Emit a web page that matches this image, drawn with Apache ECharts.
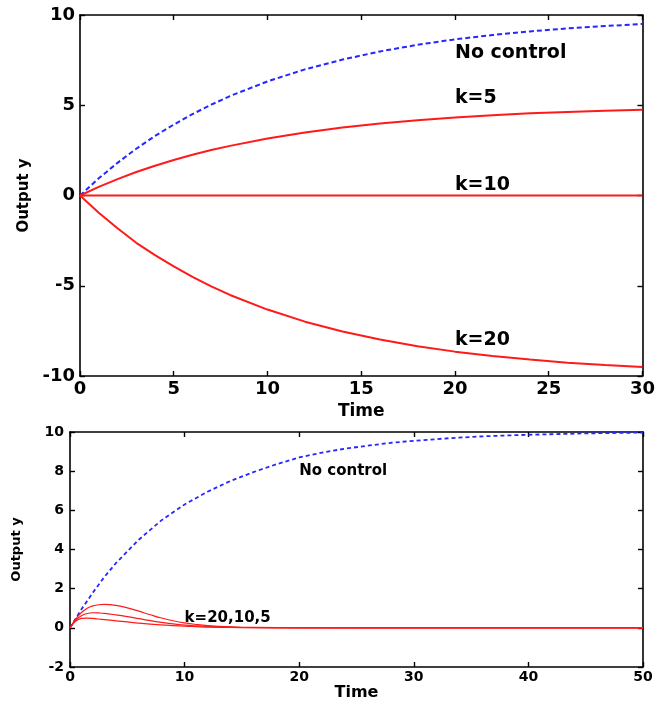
<!DOCTYPE html>
<html>
<head>
<meta charset="utf-8">
<script src="https://cdn.jsdelivr.net/npm/echarts@6/dist/echarts.min.js"></script>
<style>
html,body{margin:0;padding:0;background:#fff;}
#c{width:658px;height:702px;}
</style>
</head>
<body>
<div id="c"></div>
<script>
// ---- Top panel data (Time 0..30) ----
var topTime = [0,1,2,3,4,5,6,7,8,10,12,14,16,18,20,22,24,26,28,30];
var topNoControl = [0,0.95,1.81,2.59,3.30,3.93,4.51,5.03,5.51,6.32,6.99,7.53,7.98,8.35,8.65,8.89,9.09,9.26,9.39,9.50];
var topK5 = [0,0.48,0.91,1.30,1.65,1.97,2.26,2.52,2.75,3.16,3.49,3.77,3.99,4.17,4.32,4.45,4.55,4.63,4.70,4.75];
var topK10 = [0,0,0,0,0,0,0,0,0,0,0,0,0,0,0,0,0,0,0,0];
var topK20 = [0,-0.95,-1.81,-2.62,-3.30,-3.93,-4.51,-5.03,-5.51,-6.32,-6.99,-7.53,-7.98,-8.35,-8.65,-8.89,-9.09,-9.26,-9.39,-9.50];
var topXTicks = [0,5,10,15,20,25,30];
var topYTicks = [-10,-5,0,5,10];

// ---- Bottom panel data (Time 0..50) ----
var botTimeBlue = [0,1,2,3,4,5,6,7,8,9,10,12,14,16,18,20,22,24,26,28,30,33,36,40,45,50];
var botNoControl = [0,0.95,1.8,2.6,3.3,3.9,4.5,5.0,5.5,5.9,6.3,6.95,7.5,7.95,8.35,8.7,8.95,9.15,9.3,9.45,9.55,9.68,9.78,9.86,9.93,9.97];
var botTimeRed = [0,0.5,1,1.5,2,2.5,3,4,5,6,7,8,9,10,11,12,14,16,20,30,40,50];
var botK5 = [0,0.45,0.78,1.0,1.12,1.18,1.2,1.15,1.02,0.85,0.67,0.5,0.36,0.25,0.17,0.11,0.05,0.02,0.01,0,0,0];
var botK10 = [0,0.4,0.62,0.73,0.77,0.76,0.74,0.66,0.57,0.47,0.37,0.28,0.2,0.14,0.1,0.07,0.03,0.01,0,0,0,0];
var botK20 = [0,0.35,0.48,0.5,0.48,0.45,0.42,0.36,0.3,0.24,0.19,0.15,0.11,0.08,0.06,0.04,0.02,0.01,0,0,0,0];
var botXTicks = [0,10,20,30,40,50];
var botYTicks = [-2,0,2,4,6,8,10];

// ---- Annotation labels ----
var topLabels = [
  {text:'No control', t:20, y:7.9},
  {text:'k=5', t:20, y:5.4},
  {text:'k=10', t:20, y:0.6},
  {text:'k=20', t:20, y:-8.0}
];
var botLabels = [
  {text:'No control', t:20, y:8.0},
  {text:'k=20,10,5', t:10, y:0.5}
];

function zip(xs, ys){ return xs.map(function(x,i){ return [x, ys[i]]; }); }

var FONT = 'DejaVu Sans';
var BLUE = '#2626ff';
var RED = '#ff1a1a';

function axisBase(fs){
  return {
    axisLine:{show:true, onZero:false, lineStyle:{color:'#000', width:1.6}},
    axisTick:{show:true, inside:true, length:5, lineStyle:{color:'#000', width:1.4}},
    splitLine:{show:false},
    axisLabel:{color:'#000', fontFamily:FONT, fontWeight:'bold', fontSize:fs}
  };
}
function mk(o, extra){ var r = JSON.parse(JSON.stringify(o)); for (var k in extra){ if (typeof extra[k]==='object' && r[k] && !Array.isArray(extra[k])) { for (var j in extra[k]) r[k][j]=extra[k][j]; } else r[k]=extra[k]; } return r; }

function markLabels(list, fs){
  return {
    symbol:'circle', symbolSize:0, silent:true,
    label:{show:true, position:'right', distance:0, color:'#000', fontFamily:FONT, fontWeight:'bold', fontSize:fs},
    data: list.map(function(l){ return {coord:[l.t, l.y], value:0, label:{formatter:l.text}}; })
  };
}

var topX = mk(axisBase(18), {type:'value', gridIndex:0, min:0, max:30, interval:5, position:'bottom',
  name:'Time', nameLocation:'middle', nameGap:27,
  nameTextStyle:{color:'#000', fontFamily:FONT, fontWeight:'bold', fontSize:17},
  axisLabel:{margin:4}});
var topX2 = mk(axisBase(18), {type:'value', gridIndex:0, min:0, max:30, interval:5, position:'top', axisLabel:{show:false}});
var topY = mk(axisBase(18), {type:'value', gridIndex:0, min:-10, max:10, interval:5, position:'left',
  name:'Output y', nameLocation:'middle', nameGap:40, nameRotate:90,
  nameTextStyle:{color:'#000', fontFamily:FONT, fontWeight:'bold', fontSize:15},
  axisLabel:{margin:5}});
var topY2 = mk(axisBase(18), {type:'value', gridIndex:0, min:-10, max:10, interval:5, position:'right', axisLabel:{show:false}});

var botX = mk(axisBase(14), {type:'value', gridIndex:1, min:0, max:50, interval:10, position:'bottom',
  name:'Time', nameLocation:'middle', nameGap:18,
  nameTextStyle:{color:'#000', fontFamily:FONT, fontWeight:'bold', fontSize:16},
  axisLabel:{margin:3}});
var botX2 = mk(axisBase(14), {type:'value', gridIndex:1, min:0, max:50, interval:10, position:'top', axisLabel:{show:false}});
var botY = mk(axisBase(14), {type:'value', gridIndex:1, min:-2, max:10, interval:2, position:'left',
  name:'Output y', nameLocation:'middle', nameGap:47, nameRotate:90,
  nameTextStyle:{color:'#000', fontFamily:FONT, fontWeight:'bold', fontSize:13},
  axisLabel:{margin:6}});
var botY2 = mk(axisBase(14), {type:'value', gridIndex:1, min:-2, max:10, interval:2, position:'right', axisLabel:{show:false}});

var chart = echarts.init(document.getElementById('c'), null, {renderer:'canvas'});
chart.setOption({
  backgroundColor:'#fff',
  animation:false,
  grid:[
    {left:80, right:13, top:15, bottom:326, containLabel:false},
    {left:70, right:15, top:432, bottom:35, containLabel:false}
  ],
  xAxis:[topX, topX2, botX, botX2],
  yAxis:[topY, topY2, botY, botY2],
  series:[
    {type:'line', xAxisIndex:0, yAxisIndex:0, data:zip(topTime, topNoControl), showSymbol:false,
      lineStyle:{color:BLUE, width:2, type:[5,3]}, markPoint: markLabels(topLabels, 19)},
    {type:'line', xAxisIndex:0, yAxisIndex:0, data:zip(topTime, topK5), showSymbol:false, lineStyle:{color:RED, width:2}},
    {type:'line', xAxisIndex:0, yAxisIndex:0, data:zip(topTime, topK10), showSymbol:false, lineStyle:{color:RED, width:2}},
    {type:'line', xAxisIndex:0, yAxisIndex:0, data:zip(topTime, topK20), showSymbol:false, lineStyle:{color:RED, width:2}},
    {type:'line', xAxisIndex:2, yAxisIndex:2, data:zip(botTimeBlue, botNoControl), showSymbol:false,
      lineStyle:{color:BLUE, width:1.8, type:[4,3]}, markPoint: markLabels(botLabels, 15)},
    {type:'line', xAxisIndex:2, yAxisIndex:2, data:zip(botTimeRed, botK5), showSymbol:false, smooth:0.4, lineStyle:{color:RED, width:1.2}},
    {type:'line', xAxisIndex:2, yAxisIndex:2, data:zip(botTimeRed, botK10), showSymbol:false, smooth:0.4, lineStyle:{color:RED, width:1.2}},
    {type:'line', xAxisIndex:2, yAxisIndex:2, data:zip(botTimeRed, botK20), showSymbol:false, smooth:0.4, lineStyle:{color:RED, width:1.2}}
  ]
});
</script>
</body>
</html>
